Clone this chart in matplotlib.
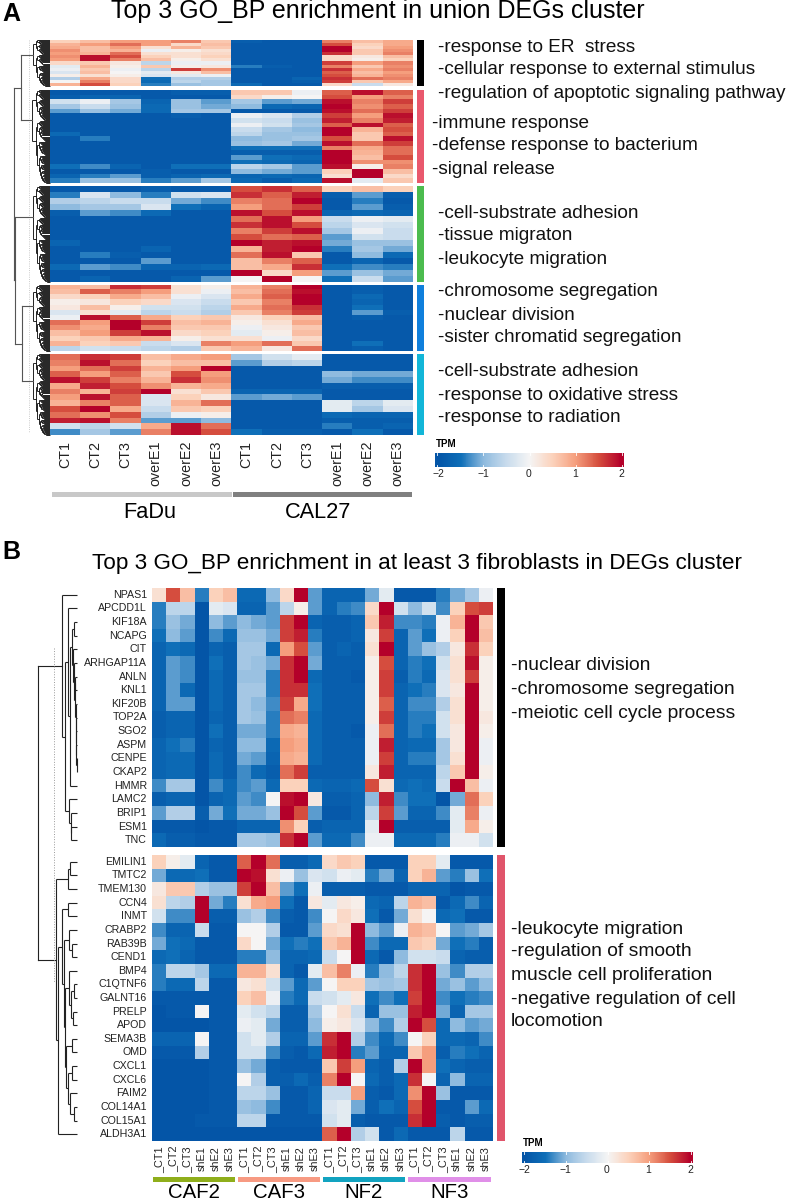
import numpy as np
import matplotlib
matplotlib.use('Agg')
import matplotlib.pyplot as plt
from matplotlib.colors import LinearSegmentedColormap

plt.rcParams['font.family'] = ['Liberation Sans', 'DejaVu Sans']

W, H = 789, 1200

# ---- panel A data (rows x 12 samples) ----
a_samples = ['CT1', 'CT2', 'CT3', 'overE1', 'overE2', 'overE3'] * 2
a_groups = ['FaDu', 'CAL27']
a_cluster1 = [
    [.5, .7, 1.0, 1.0, 1.2, .6, -1.8, -1.9, -1.9, 1.2, .7, .9],
    [.8, 1.0, 1.3, 1.0, .4, .7, -1.9, -1.9, -1.9, 1.5, .5, .9],
    [.9, .7, 1.0, .3, .8, .6, -1.9, -1.9, -1.9, 2, .4, 1.0],
    [1.1, .7, .8, -.1, .1, .3, -1.9, -1.9, -1.9, 2, .6, 1.1],
    [1.0, .8, 1.3, .3, .3, .4, -1.9, -1.9, -1.9, 1.7, .6, 1.2],
    [1.1, 1.9, 1.5, .5, .3, .5, -1.9, -1.9, -1.9, .4, .2, .7],
    [1.0, 1.9, 1.2, .7, .1, .3, -1.9, -1.9, -1.9, .4, .1, .5],
    [.4, .6, .2, -.6, -.1, -.1, -1.9, -1.9, -1.9, 1.6, 1.0, 1.2],
    [-.2, .8, .1, .6, .1, .2, -1.4, -1.8, -1.9, 1.2, .6, 1.1],
    [-.1, .6, -.1, -.6, 1.6, 1.1, -1.9, -1.9, -1.9, 1.7, .9, 1.2],
    [-.3, .7, .0, -.2, .2, .7, -1.9, -1.9, -1.9, 1.4, .7, 1.0],
    [.1, .3, .1, -.3, -.2, -.1, -1.9, -1.9, -1.9, 1.5, .8, 1.1],
    [-.7, .9, .4, -1.5, -.7, -.7, -1.9, -1.9, -1.7, 1.7, 1.3, 1.2],
    [.0, 1.2, .4, -1.6, -.6, -.8, -1.9, -1.9, -1.8, 1.6, .6, .9],
    [.8, 1.5, .5, -1.4, -.9, -.8, -1.6, -1.9, -1.9, .4, -.5, .2],
]
a_cluster2 = [
    [-1.9, -1.9, -1.9, -1.9, -1.8, -1.8, .6, .6, -.1, 1.4, 1.9, 1.4],
    [-1.8, -1.7, -1.7, -1.9, -1.9, -1.9, .4, .1, .0, 1.5, 1.0, 1.2],
    [-.4, -.1, -.8, -1.7, -.9, -1.2, -.8, -1.2, -1.1, 1.9, 1.2, 1.6],
    [-.8, -.5, -.9, -1.6, -.9, -1.1, -1.0, -1.6, -1.7, 2, 1.1, 1.4],
    [-1.2, -.9, -1.1, -1.6, -.8, -.8, -1.9, -1.9, -1.9, 1.9, 1.3, 1.6],
    [-1.9, -1.9, -1.9, -1.9, -1.8, -1.9, -.1, -.3, -.7, 1.6, 1.0, 1.9],
    [-1.9, -1.9, -1.9, -1.9, -1.9, -1.9, -.4, -.5, -.9, 1.8, 1.2, 1.8],
    [-1.9, -1.9, -1.9, -1.9, -1.9, -1.9, -.1, -.4, -.8, 1.4, 1.9, 1.4],
    [-1.9, -1.9, -1.9, -1.9, -1.9, -1.9, -.5, -.8, -1.0, 2, .8, 1.5],
    [-1.6, -1.9, -1.9, -1.9, -1.9, -1.9, -.6, -.9, -.9, 2, .6, 1.4],
    [-1.9, -1.4, -1.9, -1.9, -1.9, -1.9, -1.0, -.9, -.8, 1.5, .6, 1.9],
    [-1.9, -1.9, -1.9, -1.9, -1.9, -1.9, -.9, -.8, -1.1, 1.9, 1.3, 1.6],
    [-1.9, -1.9, -1.9, -1.9, -1.9, -1.9, -1.5, -1.5, -1.5, 1.2, .9, 1.3],
    [-1.9, -1.9, -1.9, -1.9, -1.9, -1.9, -1.8, -1.8, -1.8, 2, .8, 1.3],
    [-1.9, -1.9, -1.9, -1.9, -1.9, -1.9, -1.2, -1.5, -1.6, 2, .7, 1.5],
    [-1.9, -1.9, -1.9, -1.9, -1.9, -1.9, -1.5, -1.6, -1.7, 2, 1.1, 1.1],
    [-1.5, -1.3, -1.7, -1.9, -1.5, -1.5, -.6, -.8, -1.2, 1.9, .1, 1.2],
    [-1.9, -1.9, -1.9, -1.8, -1.9, -1.9, -1.0, -1.1, -1.2, .5, 2, .7],
    [-1.7, -1.4, -1.2, -1.8, -1.7, -1.6, -1.7, -1.6, -1.7, .3, 2, .4],
    [-1.4, -.9, -.9, -1.4, -1.2, -.8, -1.6, -1.8, -1.6, 1.9, -.2, .6],
]
a_cluster3 = [
    [-1.9, -1.9, -1.9, -1.8, -1.9, -1.9, 1.5, 1.7, 1.4, .5, .7, .5],
    [-1.4, -.3, -1.0, -1.4, -.4, -.3, 1.7, 1.4, 1.8, -1.8, -1.2, -1.8],
    [-.7, -.6, -.5, -.5, -1.1, -1.3, 1.2, 1.3, 2, -1.9, -1.4, -1.9],
    [-1.0, -.8, -.8, -.3, -1.5, -1.7, 1.0, 1.3, 1.6, -1.9, -1.2, -1.8],
    [-1.8, -1.2, -1.3, -1.6, -1.9, -1.9, 1.9, 1.5, 1.9, -1.7, -1.6, -1.7],
    [-1.9, -1.9, -1.9, -1.9, -1.9, -1.9, 1.3, 1.9, 1.0, -.5, -.1, -.2],
    [-1.9, -1.9, -1.9, -1.9, -1.9, -1.9, 1.7, 1.9, 1.5, -.6, -.3, -.4],
    [-1.9, -1.9, -1.9, -1.9, -1.9, -1.9, 1.2, 1.6, 1.9, -.8, -.1, -.5],
    [-1.9, -1.9, -1.9, -1.9, -1.9, -1.9, 1.5, 1.3, 1.4, -1.2, -.4, -.5],
    [-1.7, -1.9, -1.9, -1.9, -1.9, -1.9, 2, 1.8, 1.9, -1.1, -.9, -.9],
    [-1.9, -1.9, -1.9, -1.7, -1.9, -1.9, .8, 1.8, 2, -1.4, -.8, -1.1],
    [-1.9, -1.4, -1.8, -1.9, -1.9, -1.9, 1.3, 1.9, .6, -1.9, -1.0, -1.6],
    [-1.9, -1.9, -1.9, -1.2, -1.9, -1.9, .7, 1.2, 1.4, -1.9, -1.7, -1.9],
    [-1.6, -1.2, -1.3, -1.7, -1.7, -1.6, .7, .9, 1.7, -1.5, -1.3, -1.4],
    [-1.9, -1.9, -1.9, -1.9, -1.9, -1.9, 2, .4, 1.0, -1.2, -.9, -1.1],
    [-1.9, -1.7, -1.9, -1.9, -1.7, -1.2, .0, 2, .0, -1.5, -.5, -1.2],
]
a_cluster4 = [
    [.8, .7, 1.7, 1.6, .3, .1, .8, 1.2, 2, -1.9, -1.8, -1.9],
    [.7, 1.4, 1.2, 1.0, .3, -.1, .7, 1.3, 1.9, -1.9, -1.8, -1.9],
    [.4, .5, .9, .7, -.1, -.3, .9, 1.4, 2, -1.9, -1.6, -1.9],
    [.1, .2, .5, .4, -.3, -.5, .6, 1.2, 2, -1.9, -1.7, -1.9],
    [.2, .7, .1, -.4, -.4, -.6, .9, 1.3, 1.7, -1.9, -1.5, -1.9],
    [-.3, .3, -.2, -.6, -.5, -.7, .6, 1.2, 1.6, -1.9, -1.2, -1.8],
    [-.1, 1.9, 1.4, .9, .5, .6, .2, .5, .7, -1.9, -1.8, -1.9],
    [1.3, 1.0, 2, 1.6, .7, .8, .1, .3, .9, -1.9, -1.9, -1.9],
    [1.1, .9, 2, 1.2, .6, .6, -.1, .2, .6, -1.9, -1.9, -1.9],
    [.7, 1.0, 1.6, 1.9, .4, .5, -.2, .1, .7, -1.9, -1.9, -1.9],
    [.5, .6, .9, .8, .1, .3, .3, -.1, .4, -1.9, -1.9, -1.9],
    [.8, .5, .6, -.5, -.3, 1.2, 1.0, 1.3, .6, -1.9, -1.5, -1.9],
    [-.6, -.4, -.5, -.6, -.7, .6, .8, .2, 1.3, -1.9, -1.8, -1.9],
]
a_cluster5 = [
    [1.3, 1.7, 1.6, .7, .9, 1.0, -.8, -.4, -.2, -1.9, -1.9, -1.9],
    [1.2, 1.9, 1.3, .5, .7, .7, -1.2, -.7, -.6, -1.9, -1.9, -1.9],
    [1.0, 1.3, 1.6, .8, 1.0, 2, -1.9, -1.9, -1.9, -1.9, -1.9, -1.9],
    [1.4, 1.0, 1.4, .6, 1.5, 1.0, -1.9, -1.9, -1.9, -1.0, -1.1, -1.1],
    [1.9, 1.6, 1.2, .8, 1.7, 1.1, -1.9, -1.9, -1.9, -1.1, -1.3, -1.3],
    [.9, 1.8, 1.5, 1.1, .8, .9, -1.9, -1.9, -1.9, -1.8, -1.8, -1.8],
    [1.2, .8, 1.6, 2, .3, .6, -1.7, -1.7, -1.7, -1.9, -1.9, -1.9],
    [1.0, 1.9, 1.4, -.3, .5, .2, -1.2, -1.1, -1.2, -1.9, -1.9, -1.9],
    [.8, 1.2, 1.4, -.3, .8, 1.3, -1.9, -1.9, -1.9, -.2, -.6, -.2],
    [1.5, 2, .9, -.5, .6, .5, -1.9, -1.9, -1.9, -.2, -.8, -.3],
    [1.3, 1.1, 1.5, -.7, -.1, .1, -1.9, -1.9, -1.9, -1.6, -1.7, -1.7],
    [1.8, 1.9, 1.2, -1.2, -1.2, -1.0, -1.9, -1.9, -1.9, -1.8, -1.8, -1.8],
    [-.4, -.6, -.4, .9, 1.9, 1.3, -1.9, -1.9, -1.9, -1.4, -1.8, -1.7],
    [-1.3, -.8, -1.2, 1.2, 1.9, 1.5, -1.5, -1.8, -1.8, -1.9, -1.5, -1.9],
]

# ---- panel B data (rows x 24 samples) ----
b_samples = ['_CT1', '_CT2', '_CT3', 'shE1', 'shE2', 'shE3'] * 4
b_groups = ['CAF2', 'CAF3', 'NF2', 'NF3']
b_genes_up = ['NPAS1', 'APCDD1L', 'KIF18A', 'NCAPG', 'CIT', 'ARHGAP11A', 'ANLN', 'KNL1', 'KIF20B', 'TOP2A',
              'SGO2', 'ASPM', 'CENPE', 'CKAP2', 'HMMR', 'LAMC2', 'BRIP1', 'ESM1', 'TNC']
b_genes_down = ['EMILIN1', 'TMTC2', 'TMEM130', 'CCN4', 'INMT', 'CRABP2', 'RAB39B', 'CEND1', 'BMP4', 'C1QTNF6',
                'GALNT16', 'PRELP', 'APOD', 'SEMA3B', 'OMD', 'CXCL1', 'CXCL6', 'FAIM2', 'COL14A1', 'COL15A1',
                'ALDH3A1']
b_up = [
    [.3, 1.5, .7, -1.4, .5, .7, -1.6, -1.6, -1.0, .4, 2, -1.2, -1.7, -1.7, -1.7, -1.1, -.2, -1.9, -1.9, -1.9, -1.4, -1.1, -.8, -.1],
    [-1.4, -.6, -.6, -2, -.2, -.3, -1.7, -1.7, -1.2, -.6, .1, -1.2, -1.7, -1.4, -1.3, .4, 2, -.4, -1, -.4, -1.3, .5, 1.5, 1.6],
    [-1.4, -.9, -1.1, -2, -1, -1.2, -1, -1.1, -1.2, 1.6, 2, -1.7, -1.8, -1.8, -1.7, .6, 1.8, -1.3, -1.3, -1.4, -.1, .8, 2, .6],
    [-1.5, -1, -1.2, -2, -1.3, -1.6, -.9, -.9, -1.1, 1.6, 1.8, -1.4, -1.8, -1.8, -1.7, .2, 1.6, -1.7, -1.2, -1.5, -.1, .5, 2, .7],
    [-1.7, -1.5, -1.6, -2, -1.7, -1.8, -.8, -.8, -1.6, 1, 1.5, -1.2, -1.8, -1.7, -1.8, .3, 2, -1.7, -1.2, -.9, -.7, .2, 1.7, .5],
    [-1.7, -1.2, -1.3, -2, -1.5, -1.8, -.8, -.9, -1.1, 1.7, 2, -1.1, -1.8, -1.8, -1.8, .1, 1.5, -1.7, -1.4, -1.5, -.4, .3, 1.9, .1],
    [-1.7, -1.2, -1.3, -2, -1.6, -1.8, -.9, -.9, -1.4, 1.7, 2, -1.6, -1.8, -1.8, -1.9, .1, 1.6, -1.8, -1.4, -1.6, -.3, .3, 1.6, .1],
    [-1.7, -1.2, -1.6, -2, -1.6, -1.8, -.8, -.8, -1.4, 1.7, 1.7, -1.5, -1.8, -1.8, -1.8, .1, 1.6, -1.7, -1.5, -1.4, -.3, .2, 2, .1],
    [-1.7, -1.2, -1.2, -2, -1.6, -1.8, -.8, -1, -1.3, 1.6, .9, -1.5, -1.8, -1.8, -1.8, .1, 1.4, -1.7, -1.3, -1.3, -.7, .3, 2, .1],
    [-1.8, -1.7, -1.7, -2, -1.7, -1.8, -.8, -.9, -1.4, 1.3, 1.2, -1.6, -1.8, -1.8, -1.8, .1, 1.6, -1.7, -1.4, -1.4, -.4, .3, 2, .2],
    [-1.8, -1.7, -1.7, -2, -1.5, -1.8, -1.1, -1.1, -1.4, .9, .8, -1.6, -1.8, -1.8, -1.9, -.1, 1.3, -1.7, -1.4, -1.5, -.4, .2, 2, .1],
    [-1.7, -1.5, -1.4, -2, -1.7, -1.8, -1, -1, -1.6, 1, .9, -1.6, -1.8, -1.8, -1.8, -.1, 1.8, -1.7, -1.6, -1.6, -.8, .2, 2, -.1],
    [-1.7, -1.6, -1.6, -2, -1.6, -1.8, -1.1, -1.2, -1.7, .9, .8, -1.6, -1.8, -1.8, -1.8, -.1, 1.6, -1.7, -1.4, -1.4, -.8, .3, 2, -.1],
    [-1.7, -1.6, -1.6, -2, -1.6, -1.8, -1.3, -1.6, -1.8, 1.3, 1.6, -1.8, -1.8, -1.8, -1.8, .2, 1.8, -1.7, -1.7, -1.7, -.6, .6, 2, .1],
    [-1.3, -.8, -.8, -2, -1.3, -1.6, -1.3, -1.2, -1.6, .5, .5, -1.6, -1.7, -1.7, -1.6, 1.5, .3, -1.6, -1.5, -1.6, -.5, 2, .7, -.1],
    [-1.8, -1.7, -1.7, -2, -1.7, -1.6, -1.2, -1.3, 0, 1.9, 2, .2, -1.8, -1.8, -1.7, -1, 1.8, -1.3, -1.5, -1.5, -2, -1.1, 1.3, .5],
    [-1.2, -.7, -.7, -1.8, -1.1, -1.5, -1.1, -1.1, -.9, 2, 1.5, -1.2, -1.9, -1.9, -1.7, -.6, 1.6, -1.2, -1.7, -1.7, -1.3, -.2, 1.2, -.1],
    [-1.9, -1.9, -1.9, -2, -1.9, -1.9, -1.7, -1.7, -1.7, 1.1, .5, -1.8, -1.7, -1.7, -1.7, -.2, 2, -1.8, -1.8, -1.8, -1.8, -.2, .9, .1],
    [-1.6, -1.8, -1.8, -1.9, -1.9, -1.9, -.8, -.8, -.9, 1.7, 2, -1.2, -1.6, -1.6, -1.3, -.1, -.1, -1.6, -1.6, -1.6, -1.4, -.1, -.1, -.4],
]
b_down = [
    [.5, .1, -.2, -1.7, -1.9, -1.9, 1.4, 2, 1.3, -1.8, -1.8, -1.6, .4, .6, .5, -1.9, -1.9, -1.9, .5, .5, -.2, -1.9, -1.9, -1.9],
    [-1.1, -1.6, -1.6, -1.5, -1.9, -1.9, 2, 1.9, .3, -.1, -.9, -.3, -.4, -.1, -.2, -1.4, -1.1, -1.7, .5, .8, -1.2, -1.4, -.9, -1.5],
    [.2, .6, .6, -.7, -.9, -.9, 1.6, 2, .7, -1.2, -1.5, -.1, -1.8, -1.8, -1.8, -1.9, -1.9, -1.9, -1.7, -1.7, -1.7, -2, -1.9, -1.9],
    [.3, -.6, -.7, 2, -1.1, -1.4, .3, .9, 1, -1.5, -1.9, .2, -.2, .2, .1, -1.6, -1.7, -.6, .8, .7, -1.9, -1.6, -1.3, -1.7],
    [-.4, -1.3, -1.3, 2, -1.8, -1.8, -.9, -.7, -1.3, -1.8, -1.9, -1.3, 0, .4, .2, -1.5, -1.9, -1.1, .3, 0, -1.6, -1.5, -1.9, -1.9],
    [-1.3, -1.7, -1.7, -.5, -1.9, -1.9, 0, 0, -.7, -1.9, -1.9, -1.2, .4, .3, 2, -1, -1.2, -.1, .8, .7, 0, -1.2, -1.1, -.8],
    [-1.1, -1.5, -1.6, -1.9, -1.9, -1.9, .4, 0, -1.1, -1.5, -1.4, -1.5, .6, .8, 2, -1.3, -1.6, -1.6, .6, .5, -1.1, -1.5, -1.4, -1.8],
    [-1.6, -1.5, -1.7, -1.9, -1.9, -1.9, -1.4, -1.4, -1, -1.7, -1.7, -1.6, -.5, 0, 2, -1.6, -1.9, -1, -.4, -.4, -.5, -1.7, -1.8, -1.8],
    [-1.4, -.6, -.6, -.8, -1.6, -1.6, .8, .8, .3, -1.7, -1.9, -.2, .7, 1.2, -.1, -1.4, -1, -.6, 1.7, 2, -.9, -1.3, -.7, -.7],
    [-1.4, -1.6, -1.6, -.6, -1.9, -1.9, .2, .3, -.4, -1.2, -1.6, -1.2, 0, .5, .5, -.8, -.9, -.8, 1.7, 2, -1.1, -.9, -1.2, -1],
    [-1.9, -1.9, -1.9, -1.9, -1.9, -1.9, .5, .7, -.1, -1.4, -1.6, -.5, -.4, -.2, .2, -1.5, -1.3, -1.5, 1.6, 2, -1.3, -1.5, -1.4, -1.3],
    [-2, -1.9, -1.9, 0, -1.9, -1.9, -.2, -.4, -.6, -1.8, -1.8, -.8, 0, .3, -.5, -1.7, -.9, -.9, 1.8, 2, -1.1, -1.7, -.8, -.8],
    [-2, -2, -2, -2, -1.9, -1.9, -.1, -.2, -1.1, -1.8, -1.8, -1, .1, .2, -.3, -1, -1.3, -.7, 2, 1.5, -1.6, -1, -1.2, -1.1],
    [-1.7, -1.7, -1.7, 0, -1.9, -1.9, -.4, -.2, -.7, -1.7, -1.7, -1.2, 1.7, 2, -.7, -1.3, -1.6, -1.3, 0, .5, -1.6, -1.6, -1.7, -1.3],
    [-1.9, -1.9, -1.9, -.7, -1.9, -1.9, -.4, -.4, -1.3, -1.8, -1.9, -1.6, 1.8, 2, -1.4, -1.2, -1.7, -1.7, .6, 1, -1.8, -1.4, -1.5, -1.7],
    [-2, -2, -2, -2, -1.9, -1.9, -.9, -1.1, -1.8, -1.9, -1.9, -1.9, .6, 1.6, 1, -1.7, -1.8, -.7, 2, 1, -1.5, -1.7, -1.8, -1.8],
    [-2, -2, -2, -2, -1.9, -1.9, 0, -.7, -1.8, -1.8, -1.6, -1.8, 1.2, 2, 0, -1.6, -1.8, -1.6, 1.7, 0, -1.7, -1, -1.7, -1.7],
    [-2, -2, -2, -2, -1.9, -1.9, -.6, -.6, -.9, -1.9, -1.9, -1.7, -.5, -.5, 1, -1.8, -1.9, -1.6, 1.1, 2, -.9, -1.9, -1.9, -1.9],
    [-2, -2, -2, -2, -1.9, -1.9, -.9, -1, -1.3, -1.9, -1.9, -1.7, -.3, -.2, -1.1, -1.8, -1.5, -1.7, 1.5, 2, -1.9, -1.9, -1.2, -1.6],
    [-2, -2, -2, -1.9, -1.9, -1.9, -.6, -.6, -1.9, -1.9, -1.9, -1.9, -.4, -.2, -1.8, -1.9, -1.9, -1.9, 1.7, 2, -1.8, -1.9, -1.8, -1.8],
    [-2, -2, -2, -2, -2, -2, -2, -2, -2, -2, -2, -2, 1.4, 2, -.7, -.4, -1.9, -1.6, -1.9, -1.9, -1.9, -.6, -1.9, -1.9],
]

# dendrogram of panel B: (height, left, right), ints are rows
mitosis_core = (4, 4, (3.2, 5, (2.5, (2, 6, 7), (1.6, 8, (1.4, 9, (1.2, 10, (1, 11, (.8, 12, 13))))))))
mitosis = (9.3, 1, (7, (5, (3, 2, 3), mitosis_core), 14))
lamc_group = (8, 15, (6.5, 16, (6, 17, 18)))
b_tree_up = (15.3, 0, (12, mitosis, lamc_group))

bmp_group = (8.5, 8, (6.5, (3.5, 9, 10), (4, 11, 12)))
sema_group = (11.5, (5, 13, 14), (9.5, (5, 15, 16), (7.5, 17, (3, 18, 19))))
ccn_group = (15.3, (9.3, 3, 4), (13.7, (8.7, 5, (5, 6, 7)), (12.7, bmp_group, sema_group)))
b_tree_down = (21, (9.5, (7.5, 0, 1), 2), (19.5, ccn_group, 20))

# heights for the tight little trees in panel A
a_tree_heights = [17, 14, 12.5, 11, 10, 9, 8, 7, 6, 5, 4, 3, 2, 1.5, 1]

cmap = LinearSegmentedColormap.from_list('tpm', [
    (0, '#0455a7'), (.125, '#0f6fb8'), (.25, '#8fbbdf'), (.375, '#c9dced'), (.5, '#f5f5f5'),
    (.625, '#fcd3bd'), (.75, '#f6a07f'), (.875, '#d6503f'), (1, '#b4002a')])

fig = plt.figure(figsize=(W / 100, H / 100), dpi=100)
bg = fig.add_axes([0, 0, 1, 1])
bg.set_xlim(0, W)
bg.set_ylim(H, 0)
bg.axis('off')


def heat(values, x0, y0, x1, y1):
    ax = fig.add_axes([x0 / W, 1 - y1 / H, (x1 - x0) / W, (y1 - y0) / H])
    ax.imshow(np.array(values), cmap=cmap, vmin=-2, vmax=2, aspect='auto', interpolation='nearest')
    ax.axis('off')
    return ax


def draw_tree(node, leaf_y, x_leaf, lw=.8, color='#222222'):
    if not isinstance(node, tuple):
        return leaf_y(node), 0
    h, a, b = node
    ya, ha = draw_tree(a, leaf_y, x_leaf, lw, color)
    yb, hb = draw_tree(b, leaf_y, x_leaf, lw, color)
    x = x_leaf - h
    bg.plot([x, x], [ya, yb], color=color, lw=lw, solid_capstyle='butt')
    bg.plot([x, x_leaf - ha], [ya, ya], color=color, lw=lw, solid_capstyle='butt')
    bg.plot([x, x_leaf - hb], [yb, yb], color=color, lw=lw, solid_capstyle='butt')
    return (ya + yb) / 2, h


def dense_tree(lo, hi, depth=0):
    if hi - lo == 1:
        return lo
    mid = lo + max(1, (hi - lo) // 3)
    h = a_tree_heights[min(depth, len(a_tree_heights) - 1)]
    return (h, dense_tree(lo, mid, depth + 1), dense_tree(mid, hi, depth + 1))


def colorbar(x0, x1, y0, y1, tick_xs, title_y):
    ax = fig.add_axes([x0 / W, 1 - y1 / H, (x1 - x0) / W, (y1 - y0) / H])
    ax.imshow(np.linspace(-2.05, 2.05, 256)[None, :], cmap=cmap, vmin=-2, vmax=2, aspect='auto',
              extent=[-2.05, 2.05, 0, 1])
    for t in [-2, -1, 0, 1, 2]:
        ax.plot([t, t], [0, .15], color='white', lw=.6)
        ax.plot([t, t], [.85, 1], color='white', lw=.6)
    ax.set_xlim(-2.05, 2.05)
    ax.set_ylim(0, 1)
    ax.axis('off')
    for t, tx in zip([-2, -1, 0, 1, 2], tick_xs):
        bg.text(tx, y1 + 7, str(t).replace('-', '\u2212'), ha='center', va='center', fontsize=7.5, color='#222222')
    bg.text(x0 + 1, title_y, 'TPM', ha='left', va='center', fontsize=7, fontweight='bold')


# ---- panel A ----
bg.text(2, 14, 'A', fontsize=18, fontweight='bold', ha='left', va='center')
bg.text(378, 11, 'Top 3 GO_BP enrichment in union DEGs cluster', fontsize=18, ha='center', va='center')

a_clusters = [a_cluster1, a_cluster2, a_cluster3, a_cluster4, a_cluster5]
a_spans = [(40, 86), (90, 183), (186, 282), (285, 351), (354, 435)]
a_side = ['#000000', '#e9586d', '#4cbc4f', '#0f7fdc', '#12b6d8']
for vals, (y0, y1), c in zip(a_clusters, a_spans, a_side):
    heat(vals, 50, y0, 413, y1)
    bg.fill_between([417, 424], y0, y1, color=c, lw=0)

bg.plot([29, 29], [40, 432], color='#bbbbbb', lw=.6, ls=':')
stems = []
for (y0, y1), st in zip(a_spans, [17, 18, 17, 17, 17]):
    n = int(y1 - y0)
    sub = (st,) + dense_tree(0, n)[1:]
    ys = np.linspace(y0, y1, n)
    y, h = draw_tree(sub, lambda i, ys=ys: ys[i], 50, lw=.6, color='#000000')
    stems.append((y, h))


def a_top(node):
    if isinstance(node, int):
        return stems[node]
    h, a, b = node
    ya, ha = a_top(a)
    yb, hb = a_top(b)
    x = 50 - h
    bg.plot([x, x], [ya, yb], color='#555555', lw=.8)
    bg.plot([x, 50 - ha], [ya, ya], color='#555555', lw=.8)
    bg.plot([x, 50 - hb], [yb, yb], color='#555555', lw=.8)
    return (ya + yb) / 2, h


a_top((36, (29.3, 0, 1), (34.7, 2, (28, 3, 4))))

cw = 363 / 12
for i, s in enumerate(a_samples):
    bg.text(50 + cw * (i + .5), 441, s, rotation=90, ha='center', va='top', fontsize=10.3, color='#222222')
bg.fill_between([52, 232], 491.5, 496.5, color='#c8c8c8', lw=0)
bg.fill_between([233, 412], 491.5, 496.5, color='#808080', lw=0)
bg.text(150, 512, a_groups[0], fontsize=15.7, ha='center', va='center')
bg.text(318, 513, a_groups[1], fontsize=15.7, ha='center', va='center')

a_notes = [
    (438, 48, '-response to ER  stress'), (438, 70, '-cellular response to external stimulus'),
    (438, 93, '-regulation of apoptotic signaling pathway'),
    (432, 123, '-immune response'), (432, 146, '-defense response to bacterium'), (432, 169, '-signal release'),
    (438, 213, '-cell-substrate adhesion'), (438, 236, '-tissue migraton'), (438, 259, '-leukocyte migration'),
    (438, 292, '-chromosome segregation'), (438, 315, '-nuclear division'), (438, 338, '-sister chromatid segregation'),
    (438, 372, '-cell-substrate adhesion'), (438, 395, '-response to oxidative stress'), (438, 418, '-response to radiation'),
]
for x, y, s in a_notes:
    bg.text(x, y, s, fontsize=13.7, ha='left', va='center', color='#111111')
colorbar(435, 624, 453, 467, [438, 483, 529, 575, 621], 444)

# ---- panel B ----
bg.text(2, 552, 'B', fontsize=18, fontweight='bold', ha='left', va='center')
bg.text(417, 564, 'Top 3 GO_BP enrichment in at least 3 fibroblasts in DEGs cluster', fontsize=16.2, ha='center', va='center')

up_y0, up_y1, dn_y0, dn_y1 = 588, 847, 855, 1141
heat(b_up, 151.7, up_y0, 492.7, up_y1)
heat(b_down, 151.7, dn_y0, 492.7, dn_y1)
bg.fill_between([497, 505], up_y0, up_y1, color='#000000', lw=0)
bg.fill_between([497, 505], dn_y0, dn_y1, color='#e0556b', lw=0)

rh_up = (up_y1 - up_y0) / len(b_genes_up)
rh_dn = (dn_y1 - dn_y0) / len(b_genes_down)
for i, g in enumerate(b_genes_up):
    bg.text(147, up_y0 + rh_up * (i + .5), g, fontsize=7.7, ha='right', va='center', color='#222222')
for i, g in enumerate(b_genes_down):
    bg.text(147, dn_y0 + rh_dn * (i + .5), g, fontsize=7.7, ha='right', va='center', color='#222222')

y_up, _ = draw_tree(b_tree_up, lambda i: up_y0 + rh_up * (i + .5), 77.5)
y_dn, _ = draw_tree(b_tree_down, lambda i: dn_y0 + rh_dn * (i + .5), 77.5)
bg.plot([38.5, 38.5], [y_up, y_dn], color='#222222', lw=.8)
bg.plot([38.5, 77.5 - 15.3], [y_up, y_up], color='#222222', lw=.8)
bg.plot([38.5, 77.5 - 21], [y_dn, y_dn], color='#222222', lw=.8)
bg.plot([54.3, 54.3], [648, 982], color='#999999', lw=.7, ls=':')

cw = 341 / 24
for i, s in enumerate(b_samples):
    bg.text(151.7 + cw * (i + .5), 1146, s, rotation=90, ha='center', va='top', fontsize=7.8, color='#222222')
b_bar_x = [(153, 235), (238, 320), (323, 405), (408, 491)]
b_bar_c = ['#8fae1b', '#f79a82', '#12a3c0', '#e08fe8']
for (x0, x1), c, g in zip(b_bar_x, b_bar_c, b_groups):
    bg.fill_between([x0, x1], 1177, 1181.5, color=c, lw=0)
    bg.text((x0 + x1) / 2, 1192, g, fontsize=14.7, ha='center', va='center')

b_notes = [
    (511, 666, '-nuclear division'), (511, 690, '-chromosome segregation'), (511, 713, '-meiotic cell cycle process'),
    (511, 930, '-leukocyte migration'), (511, 952, '-regulation of smooth'), (511, 976, 'muscle cell proliferation'),
    (511, 999, '-negative regulation of cell'), (511, 1022, 'locomotion'),
]
for x, y, s in b_notes:
    bg.text(x, y, s, fontsize=13.9, ha='left', va='center', color='#111111')
colorbar(522, 693, 1152, 1163, [524, 565, 607, 648, 690], 1143)

fig.savefig('out.png', dpi=100)
